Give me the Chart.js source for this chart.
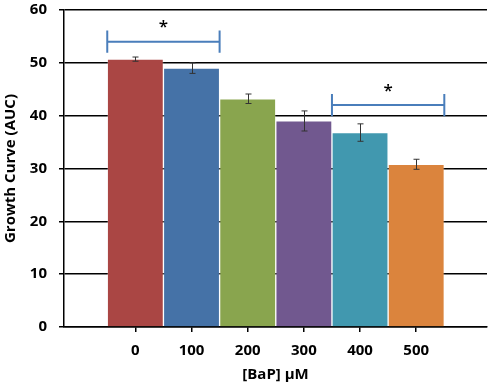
<!DOCTYPE html>
<html>
<head>
<meta charset="utf-8">
<script src="https://cdn.jsdelivr.net/npm/chart.js@4.4.0/dist/chart.umd.min.js"></script>
<style>
  html, body { margin: 0; padding: 0; background: #fff; }
  #wrap { width: 490px; height: 386px; }
</style>
</head>
<body>
<div id="wrap"><canvas id="chart" width="490" height="386"></canvas></div>
<script>
// data
const categories = ['0', '100', '200', '300', '400', '500'];
const growthAUC = [50.7, 49.0, 43.2, 39.0, 36.8, 30.8];
const errors = [0.4, 1.0, 0.9, 1.9, 1.65, 0.95];
const barColors = ['#AA4644', '#4572A7', '#89A54E', '#71588F', '#4198AF', '#DB843D'];
const yTicks = [0, 10, 20, 30, 40, 50, 60];

// significance brackets: [from, to] in category index, bracket level, end height
const bracketSpans = [[-0.5, 1.5], [3.5, 5.5]];
const bracketLevels = [54.0, 42.0];
const bracketEnds = [2.1, 2.1];
const starLevels = [57.4, 45.2];

const bracketColor = '#4A7EBB';
const fontFamily = '"Open Sans", Lato, sans-serif';

function bracketPath(i) {
    const [a, b] = bracketSpans[i];
    const y = bracketLevels[i], e = bracketEnds[i];
    return [
        {x: a, y: y + e}, {x: a, y: y - e}, {x: a, y: y},
        {x: b, y: y}, {x: b, y: y + e}, {x: b, y: y - e}
    ];
}

const errorBars = {
    id: 'errorBars',
    afterDatasetsDraw(chart) {
        const meta = chart.getDatasetMeta(0);
        const yScale = chart.scales.y;
        const ctx = chart.ctx;
        ctx.save();
        ctx.strokeStyle = '#333';
        ctx.lineWidth = 1;
        meta.data.forEach((bar, i) => {
            const x = Math.round(bar.x) + 0.5;
            const top = yScale.getPixelForValue(growthAUC[i] + errors[i]);
            const bot = yScale.getPixelForValue(growthAUC[i] - errors[i]);
            ctx.beginPath();
            ctx.moveTo(x, top); ctx.lineTo(x, bot);
            ctx.moveTo(x - 3, top); ctx.lineTo(x + 3, top);
            ctx.moveTo(x - 3, bot); ctx.lineTo(x + 3, bot);
            ctx.stroke();
        });
        // asterisks over the brackets
        ctx.fillStyle = '#000';
        ctx.font = '600 17px ' + fontFamily;
        ctx.textAlign = 'center';
        ctx.textBaseline = 'alphabetic';
        bracketSpans.forEach((s, i) => {
            const cx = chart.scales.x.getPixelForValue((s[0] + s[1]) / 2);
            const cy = yScale.getPixelForValue(starLevels[i]);
            const m = ctx.measureText('*');
            ctx.fillText('*', cx, cy + (m.actualBoundingBoxAscent - m.actualBoundingBoxDescent) / 2);
        });
        ctx.restore();
    }
};

const ctx = document.getElementById('chart').getContext('2d');
new Chart(ctx, {
    type: 'bar',
    data: {
        datasets: [
            {
                type: 'bar',
                data: growthAUC.map((v, i) => ({x: i, y: v})),
                backgroundColor: barColors,
                borderColor: 'rgba(255,255,255,0.2)',
                borderWidth: 1,
                barPercentage: 1,
                categoryPercentage: 1,
                order: 2
            },
            ...bracketSpans.map((s, i) => ({
                type: 'line',
                data: bracketPath(i),
                borderColor: bracketColor,
                borderWidth: 2,
                pointRadius: 0,
                fill: false,
                order: 1
            }))
        ]
    },
    options: {
        responsive: false,
        animation: false,
        layout: { padding: { top: 10, right: 3, left: 0, bottom: 0 } },
        plugins: {
            legend: { display: false },
            tooltip: { enabled: false }
        },
        scales: {
            x: {
                type: 'linear',
                offset: false,
                min: -1.27,
                max: 6.26,
                afterBuildTicks: (axis) => {
                    axis.ticks = categories.map((c, i) => ({value: i}));
                },
                afterFit: (axis) => {
                    axis.height = 59;
                    axis.paddingLeft = 0;
                    axis.paddingRight = 0;
                },
                ticks: {
                    callback: (v) => categories[v],
                    color: '#000',
                    font: { family: fontFamily, size: 15, weight: 'bold' },
                    padding: 10,
                    maxRotation: 0
                },
                grid: {
                    offset: false,
                    drawOnChartArea: false,
                    drawTicks: true,
                    tickLength: 5,
                    color: '#000',
                    lineWidth: 1.5
                },
                border: { color: '#000', width: 1.5 },
                title: {
                    display: true,
                    text: '[BaP] \u03BCM',
                    color: '#000',
                    font: { family: fontFamily, size: 15, weight: 'bold' },
                    padding: { top: 0, bottom: 2 }
                }
            },
            y: {
                min: 0,
                max: 60,
                afterBuildTicks: (axis) => {
                    axis.ticks = yTicks.map(v => ({value: v}));
                },
                afterFit: (axis) => {
                    axis.width = 64;
                    axis.paddingTop = 0;
                    axis.paddingBottom = 0;
                },
                ticks: {
                    color: '#000',
                    font: { family: fontFamily, size: 15, weight: 'bold' },
                    padding: 12
                },
                grid: {
                    color: '#000',
                    lineWidth: 1.5,
                    tickLength: 5
                },
                border: { color: '#000', width: 1.5 },
                title: {
                    display: true,
                    text: 'Growth Curve (AUC)',
                    color: '#000',
                    font: { family: fontFamily, size: 15, weight: 'bold' },
                    padding: { top: 2, bottom: 0 }
                }
            }
        }
    },
    plugins: [errorBars]
});
</script>
</body>
</html>
